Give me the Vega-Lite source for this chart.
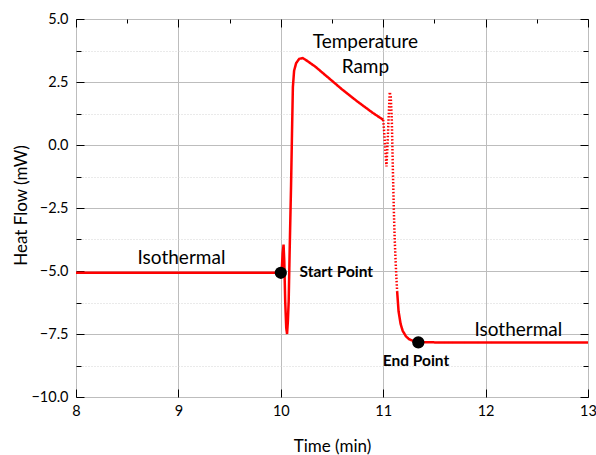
{
  "$schema": "https://vega.github.io/schema/vega-lite/v6.json",
  "width": 512,
  "height": 378,
  "autosize": "none",
  "padding": {"left": 76, "top": 19, "right": 8, "bottom": 58},
  "background": "white",
  "config": {
    "view": {"stroke": "#000000", "strokeWidth": 1},
    "font": "Lato",
    "axis": {
      "domain": false,
      "tickColor": "#000000",
      "tickWidth": 1,
      "labelFont": "Lato",
      "labelFontSize": 14.5,
      "labelColor": "#000000",
      "titleFont": "Lato",
      "titleFontSize": 17,
      "titleFontWeight": "normal",
      "titleColor": "#000000"
    }
  },
  "datasets": {
    "trace": [
      {"t": 8.0, "hf": -5.07, "part": "A", "style": "solid"},
      {"t": 9.99, "hf": -5.07, "part": "A", "style": "solid"},
      {"t": 10.0, "hf": -5.06, "part": "A", "style": "solid"},
      {"t": 10.01, "hf": -4.9, "part": "A", "style": "solid"},
      {"t": 10.018, "hf": -4.3, "part": "A", "style": "solid"},
      {"t": 10.027, "hf": -3.95, "part": "A", "style": "solid"},
      {"t": 10.034, "hf": -4.6, "part": "A", "style": "solid"},
      {"t": 10.043, "hf": -6.2, "part": "A", "style": "solid"},
      {"t": 10.053, "hf": -7.25, "part": "A", "style": "solid"},
      {"t": 10.061, "hf": -7.5, "part": "A", "style": "solid"},
      {"t": 10.069, "hf": -7.0, "part": "A", "style": "solid"},
      {"t": 10.077, "hf": -6.2, "part": "A", "style": "solid"},
      {"t": 10.086, "hf": -4.3, "part": "A", "style": "solid"},
      {"t": 10.1, "hf": -1.65, "part": "A", "style": "solid"},
      {"t": 10.11, "hf": 0.6, "part": "A", "style": "solid"},
      {"t": 10.118, "hf": 2.3, "part": "A", "style": "solid"},
      {"t": 10.13, "hf": 2.95, "part": "A", "style": "solid"},
      {"t": 10.15, "hf": 3.25, "part": "A", "style": "solid"},
      {"t": 10.18, "hf": 3.42, "part": "A", "style": "solid"},
      {"t": 10.215, "hf": 3.45, "part": "A", "style": "solid"},
      {"t": 10.26, "hf": 3.33, "part": "A", "style": "solid"},
      {"t": 10.34, "hf": 3.1, "part": "A", "style": "solid"},
      {"t": 10.45, "hf": 2.72, "part": "A", "style": "solid"},
      {"t": 10.6, "hf": 2.2, "part": "A", "style": "solid"},
      {"t": 10.75, "hf": 1.72, "part": "A", "style": "solid"},
      {"t": 10.9, "hf": 1.27, "part": "A", "style": "solid"},
      {"t": 11.0, "hf": 1.0, "part": "A", "style": "solid"},
      {"t": 11.0, "hf": 1.0, "part": "B", "style": "dotted"},
      {"t": 11.008, "hf": 0.6, "part": "B", "style": "dotted"},
      {"t": 11.016, "hf": 0.1, "part": "B", "style": "dotted"},
      {"t": 11.024, "hf": -0.4, "part": "B", "style": "dotted"},
      {"t": 11.032, "hf": -0.85, "part": "B", "style": "dotted"},
      {"t": 11.042, "hf": 0.0, "part": "B", "style": "dotted"},
      {"t": 11.052, "hf": 1.0, "part": "B", "style": "dotted"},
      {"t": 11.064, "hf": 2.1, "part": "B", "style": "dotted"},
      {"t": 11.074, "hf": 1.9, "part": "B", "style": "dotted"},
      {"t": 11.084, "hf": 1.0, "part": "B", "style": "dotted"},
      {"t": 11.094, "hf": -0.9, "part": "B", "style": "dotted"},
      {"t": 11.104, "hf": -2.6, "part": "B", "style": "dotted"},
      {"t": 11.112, "hf": -3.7, "part": "B", "style": "dotted"},
      {"t": 11.12, "hf": -4.5, "part": "B", "style": "dotted"},
      {"t": 11.128, "hf": -5.2, "part": "B", "style": "dotted"},
      {"t": 11.136, "hf": -5.8, "part": "B", "style": "dotted"},
      {"t": 11.136, "hf": -5.8, "part": "C", "style": "solid"},
      {"t": 11.15, "hf": -6.6, "part": "C", "style": "solid"},
      {"t": 11.17, "hf": -7.1, "part": "C", "style": "solid"},
      {"t": 11.19, "hf": -7.37, "part": "C", "style": "solid"},
      {"t": 11.22, "hf": -7.58, "part": "C", "style": "solid"},
      {"t": 11.25, "hf": -7.7, "part": "C", "style": "solid"},
      {"t": 11.3, "hf": -7.79, "part": "C", "style": "solid"},
      {"t": 11.343, "hf": -7.83, "part": "C", "style": "solid"},
      {"t": 12.0, "hf": -7.84, "part": "C", "style": "solid"},
      {"t": 13.0, "hf": -7.84, "part": "C", "style": "solid"}
    ],
    "points": [
      {"t": 10.0, "hf": -5.07, "name": "Start"},
      {"t": 11.343, "hf": -7.83, "name": "End"}
    ],
    "labels": [
      {"t": 10.826, "hf": 3.85, "text": "Temperature", "group": "plain"},
      {"t": 10.826, "hf": 2.86, "text": "Ramp", "group": "plain"},
      {"t": 9.03, "hf": -4.73, "text": "Isothermal", "group": "plain"},
      {"t": 12.32, "hf": -7.57, "text": "Isothermal", "group": "plain"},
      {"t": 10.183, "hf": -5.23, "text": "Start Point", "group": "boldleft"},
      {"t": 11.32, "hf": -8.77, "text": "End Point", "group": "boldcenter"}
    ]
  },
  "resolve": {"axis": {"x": "independent", "y": "independent"}},
  "layer": [
    {
      "data": {"name": "trace"},
      "mark": {"type": "line", "color": "#ff0000", "strokeWidth": 2.5, "clip": true},
      "encoding": {
        "x": {
          "field": "t", "type": "quantitative",
          "scale": {"domain": [8, 13], "nice": false, "zero": false},
          "axis": {
            "orient": "bottom",
            "values": [8, 8.5, 9, 9.5, 10, 10.5, 11, 11.5, 12, 12.5, 13],
            "format": "d",
            "labelExpr": "datum.value % 1 === 0 ? datum.label : ''",
            "labelPadding": 15,
            "labelFlush": false,
            "labelOverlap": false,
            "tickSize": {"condition": {"test": "datum.value % 1 !== 0", "value": -4}, "value": -8},
            "grid": true,
            "gridColor": {"condition": {"test": "datum.value % 1 !== 0", "value": "#d4d4d4"}, "value": "#bdbdbd"},
            "gridDash": {"condition": {"test": "datum.value % 1 !== 0", "value": [1, 2]}, "value": []},
            "gridWidth": 1,
            "title": "Time (min)",
            "titleBaseline": "alphabetic",
            "titleY": 54,
            "titleX": 256,
            "titleAlign": "center"
          }
        },
        "y": {
          "field": "hf", "type": "quantitative",
          "scale": {"domain": [-10, 5], "nice": false, "zero": false},
          "axis": {
            "orient": "left",
            "values": [-10, -8.75, -7.5, -6.25, -5, -3.75, -2.5, -1.25, 0, 1.25, 2.5, 3.75, 5],
            "format": ".1f",
            "labelExpr": "abs(datum.value % 2.5) < 0.001 ? datum.label : ''",
            "labelPadding": 16,
            "labelFlush": false,
            "labelOverlap": false,
            "tickSize": {"condition": {"test": "abs(datum.value % 2.5) > 0.001", "value": -5}, "value": -8},
            "grid": true,
            "gridColor": {"condition": {"test": "abs(datum.value % 2.5) > 0.001", "value": "#d4d4d4"}, "value": "#bdbdbd"},
            "gridDash": {"condition": {"test": "abs(datum.value % 2.5) > 0.001", "value": [1, 2]}, "value": []},
            "gridWidth": 1,
            "title": "Heat Flow (mW)",
            "titleAngle": -90,
            "titleBaseline": "alphabetic",
            "titleX": -50,
            "titleY": 186,
            "titleAlign": "center"
          }
        },
        "detail": {"field": "part"},
        "strokeDash": {
          "field": "style", "type": "nominal",
          "scale": {"domain": ["solid", "dotted"], "range": [[1, 0], [1.5, 1.8]]},
          "legend": null
        }
      }
    },
    {
      "data": {"name": "points"},
      "mark": {"type": "point", "filled": true, "color": "#000000", "size": 150, "opacity": 1},
      "encoding": {
        "x": {
          "field": "t", "type": "quantitative",
          "axis": {
            "orient": "top",
            "values": [8, 8.5, 9, 9.5, 10, 10.5, 11, 11.5, 12, 12.5, 13],
            "labels": false,
            "title": null,
            "grid": false,
            "tickSize": {"condition": {"test": "datum.value % 1 !== 0", "value": -4}, "value": -8}
          }
        },
        "y": {
          "field": "hf", "type": "quantitative",
          "axis": {
            "orient": "right",
            "values": [-10, -8.75, -7.5, -6.25, -5, -3.75, -2.5, -1.25, 0, 1.25, 2.5, 3.75, 5],
            "labels": false,
            "title": null,
            "grid": false,
            "tickSize": {"condition": {"test": "abs(datum.value % 2.5) > 0.001", "value": -5}, "value": -8}
          }
        }
      }
    },
    {
      "data": {"name": "labels"},
      "transform": [{"filter": "datum.group === 'plain'"}],
      "mark": {"type": "text", "font": "Lato", "fontSize": 19, "color": "#000000", "align": "center", "baseline": "alphabetic"},
      "encoding": {
        "x": {"field": "t", "type": "quantitative", "axis": null},
        "y": {"field": "hf", "type": "quantitative", "axis": null},
        "text": {"field": "text"}
      }
    },
    {
      "data": {"name": "labels"},
      "transform": [{"filter": "datum.group === 'boldleft'"}],
      "mark": {"type": "text", "font": "Lato", "fontSize": 15.5, "fontWeight": "bold", "color": "#000000", "align": "left", "baseline": "alphabetic"},
      "encoding": {
        "x": {"field": "t", "type": "quantitative", "axis": null},
        "y": {"field": "hf", "type": "quantitative", "axis": null},
        "text": {"field": "text"}
      }
    },
    {
      "data": {"name": "labels"},
      "transform": [{"filter": "datum.group === 'boldcenter'"}],
      "mark": {"type": "text", "font": "Lato", "fontSize": 15.5, "fontWeight": "bold", "color": "#000000", "align": "center", "baseline": "alphabetic"},
      "encoding": {
        "x": {"field": "t", "type": "quantitative", "axis": null},
        "y": {"field": "hf", "type": "quantitative", "axis": null},
        "text": {"field": "text"}
      }
    }
  ]
}
